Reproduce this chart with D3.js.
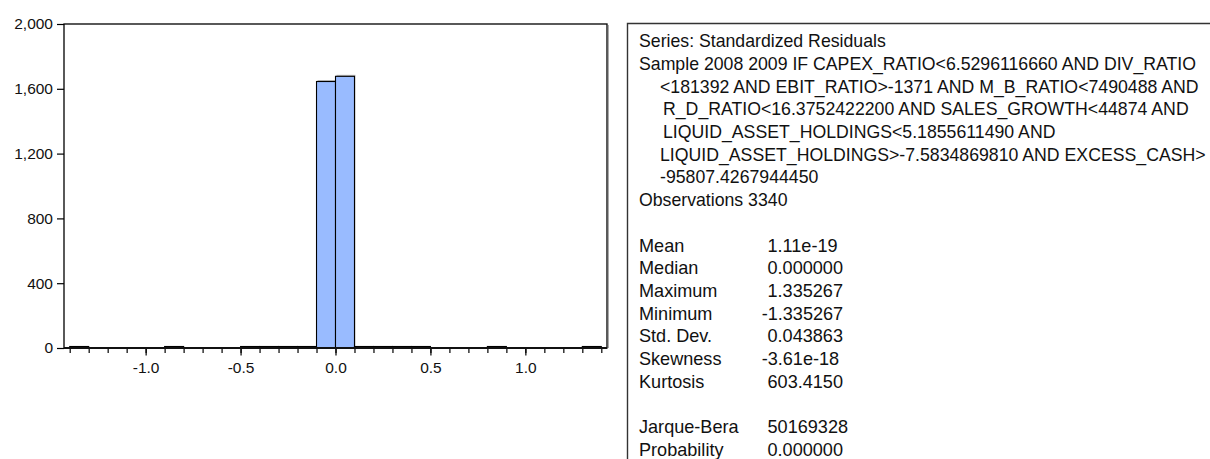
<!DOCTYPE html>
<html>
<head>
<meta charset="utf-8">
<script src="https://cdnjs.cloudflare.com/ajax/libs/d3/7.8.5/d3.min.js"></script>
<style>
  body { margin: 0; background: #fff; }
  text { font-family: "Liberation Sans", Arial, sans-serif; fill: #111; }
</style>
</head>
<body>
<div id="chart"></div>
<script>
// histogram bins: lower edges (width 0.1) and counts
var binStarts = [-1.4, -1.3, -1.2, -1.1, -1.0, -0.9, -0.8, -0.7, -0.6, -0.5, -0.4, -0.3, -0.2, -0.1,
                 0.0, 0.1, 0.2, 0.3, 0.4, 0.5, 0.6, 0.7, 0.8, 0.9, 1.0, 1.1, 1.2, 1.3];
var binCounts = [1, 0, 0, 0, 0, 1, 0, 0, 0, 1, 2, 2, 2, 1645,
                 1677, 2, 2, 2, 1, 0, 0, 0, 1, 0, 0, 0, 0, 1];
var binWidth = 0.1;

var yTicks = [0, 400, 800, 1200, 1600, 2000];
var xMajorTicks = [-1.0, -0.5, 0.0, 0.5, 1.0];

var headerLines = [
  "Series: Standardized Residuals",
  "Sample 2008 2009 IF CAPEX_RATIO<6.5296116660 AND DIV_RATIO",
  "<181392 AND EBIT_RATIO>-1371 AND M_B_RATIO<7490488 AND",
  "R_D_RATIO<16.3752422200 AND SALES_GROWTH<44874 AND",
  "LIQUID_ASSET_HOLDINGS<5.1855611490 AND",
  "LIQUID_ASSET_HOLDINGS>-7.5834869810 AND EXCESS_CASH>",
  "-95807.4267944450",
  "Observations 3340"
];
var statNames = ["Mean", "Median", "Maximum", "Minimum", "Std. Dev.", "Skewness", "Kurtosis"];
var statValues = ["1.11e-19", "0.000000", "1.335267", "-1.335267", "0.043863", "-3.61e-18", "603.4150"];
var testNames = ["Jarque-Bera", "Probability"];
var testValues = ["50169328", "0.000000"];

var svgWidth = 1210;
var svgHeight = 459;

var plot = { left: 64, right: 607, top: 24, bottom: 348 };

var svg = d3.select("#chart")
  .append("svg")
  .attr("width", svgWidth)
  .attr("height", svgHeight);

var x = d3.scaleLinear()
  .domain([-1.43, 1.43])
  .range([plot.left, plot.right]);

var y = d3.scaleLinear()
  .domain([0, 2000])
  .range([plot.bottom, plot.top]);

// frame (with a faint shadow on the right)
svg.append("line")
  .attr("x1", plot.right + 1.5).attr("x2", plot.right + 1.5)
  .attr("y1", plot.top + 1).attr("y2", plot.bottom)
  .attr("stroke", "#aaa").attr("stroke-width", 1);
svg.append("rect")
  .attr("x", plot.left).attr("y", plot.top)
  .attr("width", plot.right - plot.left).attr("height", plot.bottom - plot.top)
  .attr("fill", "#fff").attr("stroke", "#000").attr("stroke-width", 1.3);

// bars
var bins = binStarts.map(function(b, i) { return { x0: b, x1: b + binWidth, n: binCounts[i] }; })
  .filter(function(d) { return d.n > 0; });

svg.selectAll(".shadow")
  .data(bins)
  .enter()
  .append("rect")
  .attr("class", "shadow")
  .attr("x", d => x(d.x0) + 1)
  .attr("y", d => y(d.n) - 1.5)
  .attr("width", d => x(d.x1) - x(d.x0))
  .attr("height", d => plot.bottom - y(d.n))
  .attr("fill", "#bbb");

svg.selectAll(".bar")
  .data(bins)
  .enter()
  .append("rect")
  .attr("class", "bar")
  .attr("x", d => x(d.x0))
  .attr("y", d => Math.min(y(d.n), plot.bottom - 1.5))
  .attr("width", d => x(d.x1) - x(d.x0))
  .attr("height", d => Math.max(plot.bottom - y(d.n), 1.5))
  .attr("fill", "#99bbff")
  .attr("stroke", "#000")
  .attr("stroke-width", 1.1);

// baseline
svg.append("line")
  .attr("x1", plot.left).attr("x2", plot.right)
  .attr("y1", plot.bottom).attr("y2", plot.bottom)
  .attr("stroke", "#111").attr("stroke-width", 2);

var axisFont = "15.5px";

// y axis
var yAxis = d3.axisLeft(y)
  .tickValues(yTicks)
  .tickSize(7)
  .tickPadding(4)
  .tickFormat(d3.format(","));

svg.append("g")
  .attr("transform", `translate(${plot.left}, 0)`)
  .call(yAxis)
  .call(g => g.select(".domain").remove())
  .call(g => g.selectAll("line").attr("stroke", "#000").attr("stroke-width", 1.2))
  .call(g => g.selectAll("text").style("font-size", axisFont).attr("fill", "#111")
    .style("font-family", "'Liberation Sans', Arial, sans-serif"));

// x axis: minor ticks every 0.1, labelled majors every 0.5
var minorTicks = d3.range(-14, 15).map(d => d / 10);

svg.append("g")
  .attr("transform", `translate(0, ${plot.bottom + 1})`)
  .call(d3.axisBottom(x).tickValues(minorTicks).tickSize(4).tickFormat(""))
  .call(g => g.select(".domain").remove())
  .call(g => g.selectAll("line").attr("stroke", "#000").attr("stroke-width", 1.2));

svg.append("g")
  .attr("transform", `translate(0, ${plot.bottom + 1})`)
  .call(d3.axisBottom(x).tickValues(xMajorTicks).tickSize(6.5).tickPadding(6)
    .tickFormat(d => d3.format(".1f")(d).replace("\u2212", "-")))
  .call(g => g.select(".domain").remove())
  .call(g => g.selectAll("line").attr("stroke", "#000").attr("stroke-width", 1.2))
  .call(g => g.selectAll("text").style("font-size", axisFont).attr("fill", "#111")
    .style("font-family", "'Liberation Sans', Arial, sans-serif"));

// statistics box
var box = { left: 627.5, top: 23.5 };
svg.append("path")
  .attr("d", `M${box.left},${svgHeight + 2} V${box.top} H${svgWidth + 2}`)
  .attr("fill", "none")
  .attr("stroke", "#333")
  .attr("stroke-width", 1.4);

var textX = 639;
var indentX = 660;
var valueX = 767.5;
var rowStep = 22.7;
var firstBaseline = 47.2;
var headerFont = "17.7px";
var statFont = "18.1px";

svg.selectAll(".header")
  .data(headerLines)
  .enter()
  .append("text")
  .attr("class", "header")
  .attr("x", (d, i) => (i >= 2 && i <= 6) ? indentX + (i === 3 || i === 4 ? 3 : 0) : textX)
  .attr("y", (d, i) => firstBaseline + i * rowStep)
  .attr("font-size", headerFont)
  .text(d => d);

var statsTop = firstBaseline + (headerLines.length + 1) * rowStep;
var testsTop = statsTop + (statNames.length + 1) * rowStep;

var minusWidth = 5.8;

function addRows(names, values, top) {
  var g = svg.append("g");
  g.selectAll(".name")
    .data(names)
    .enter()
    .append("text")
    .attr("x", textX)
    .attr("y", (d, i) => top + i * rowStep)
    .attr("font-size", statFont)
    .text(d => d);
  g.selectAll(".val")
    .data(values)
    .enter()
    .append("text")
    .attr("x", d => d.charAt(0) === "-" ? valueX - minusWidth : valueX)
    .attr("y", (d, i) => top + i * rowStep)
    .attr("font-size", statFont)
    .text(d => d);
}

addRows(statNames, statValues, statsTop);
addRows(testNames, testValues, testsTop);
</script>
</body>
</html>
